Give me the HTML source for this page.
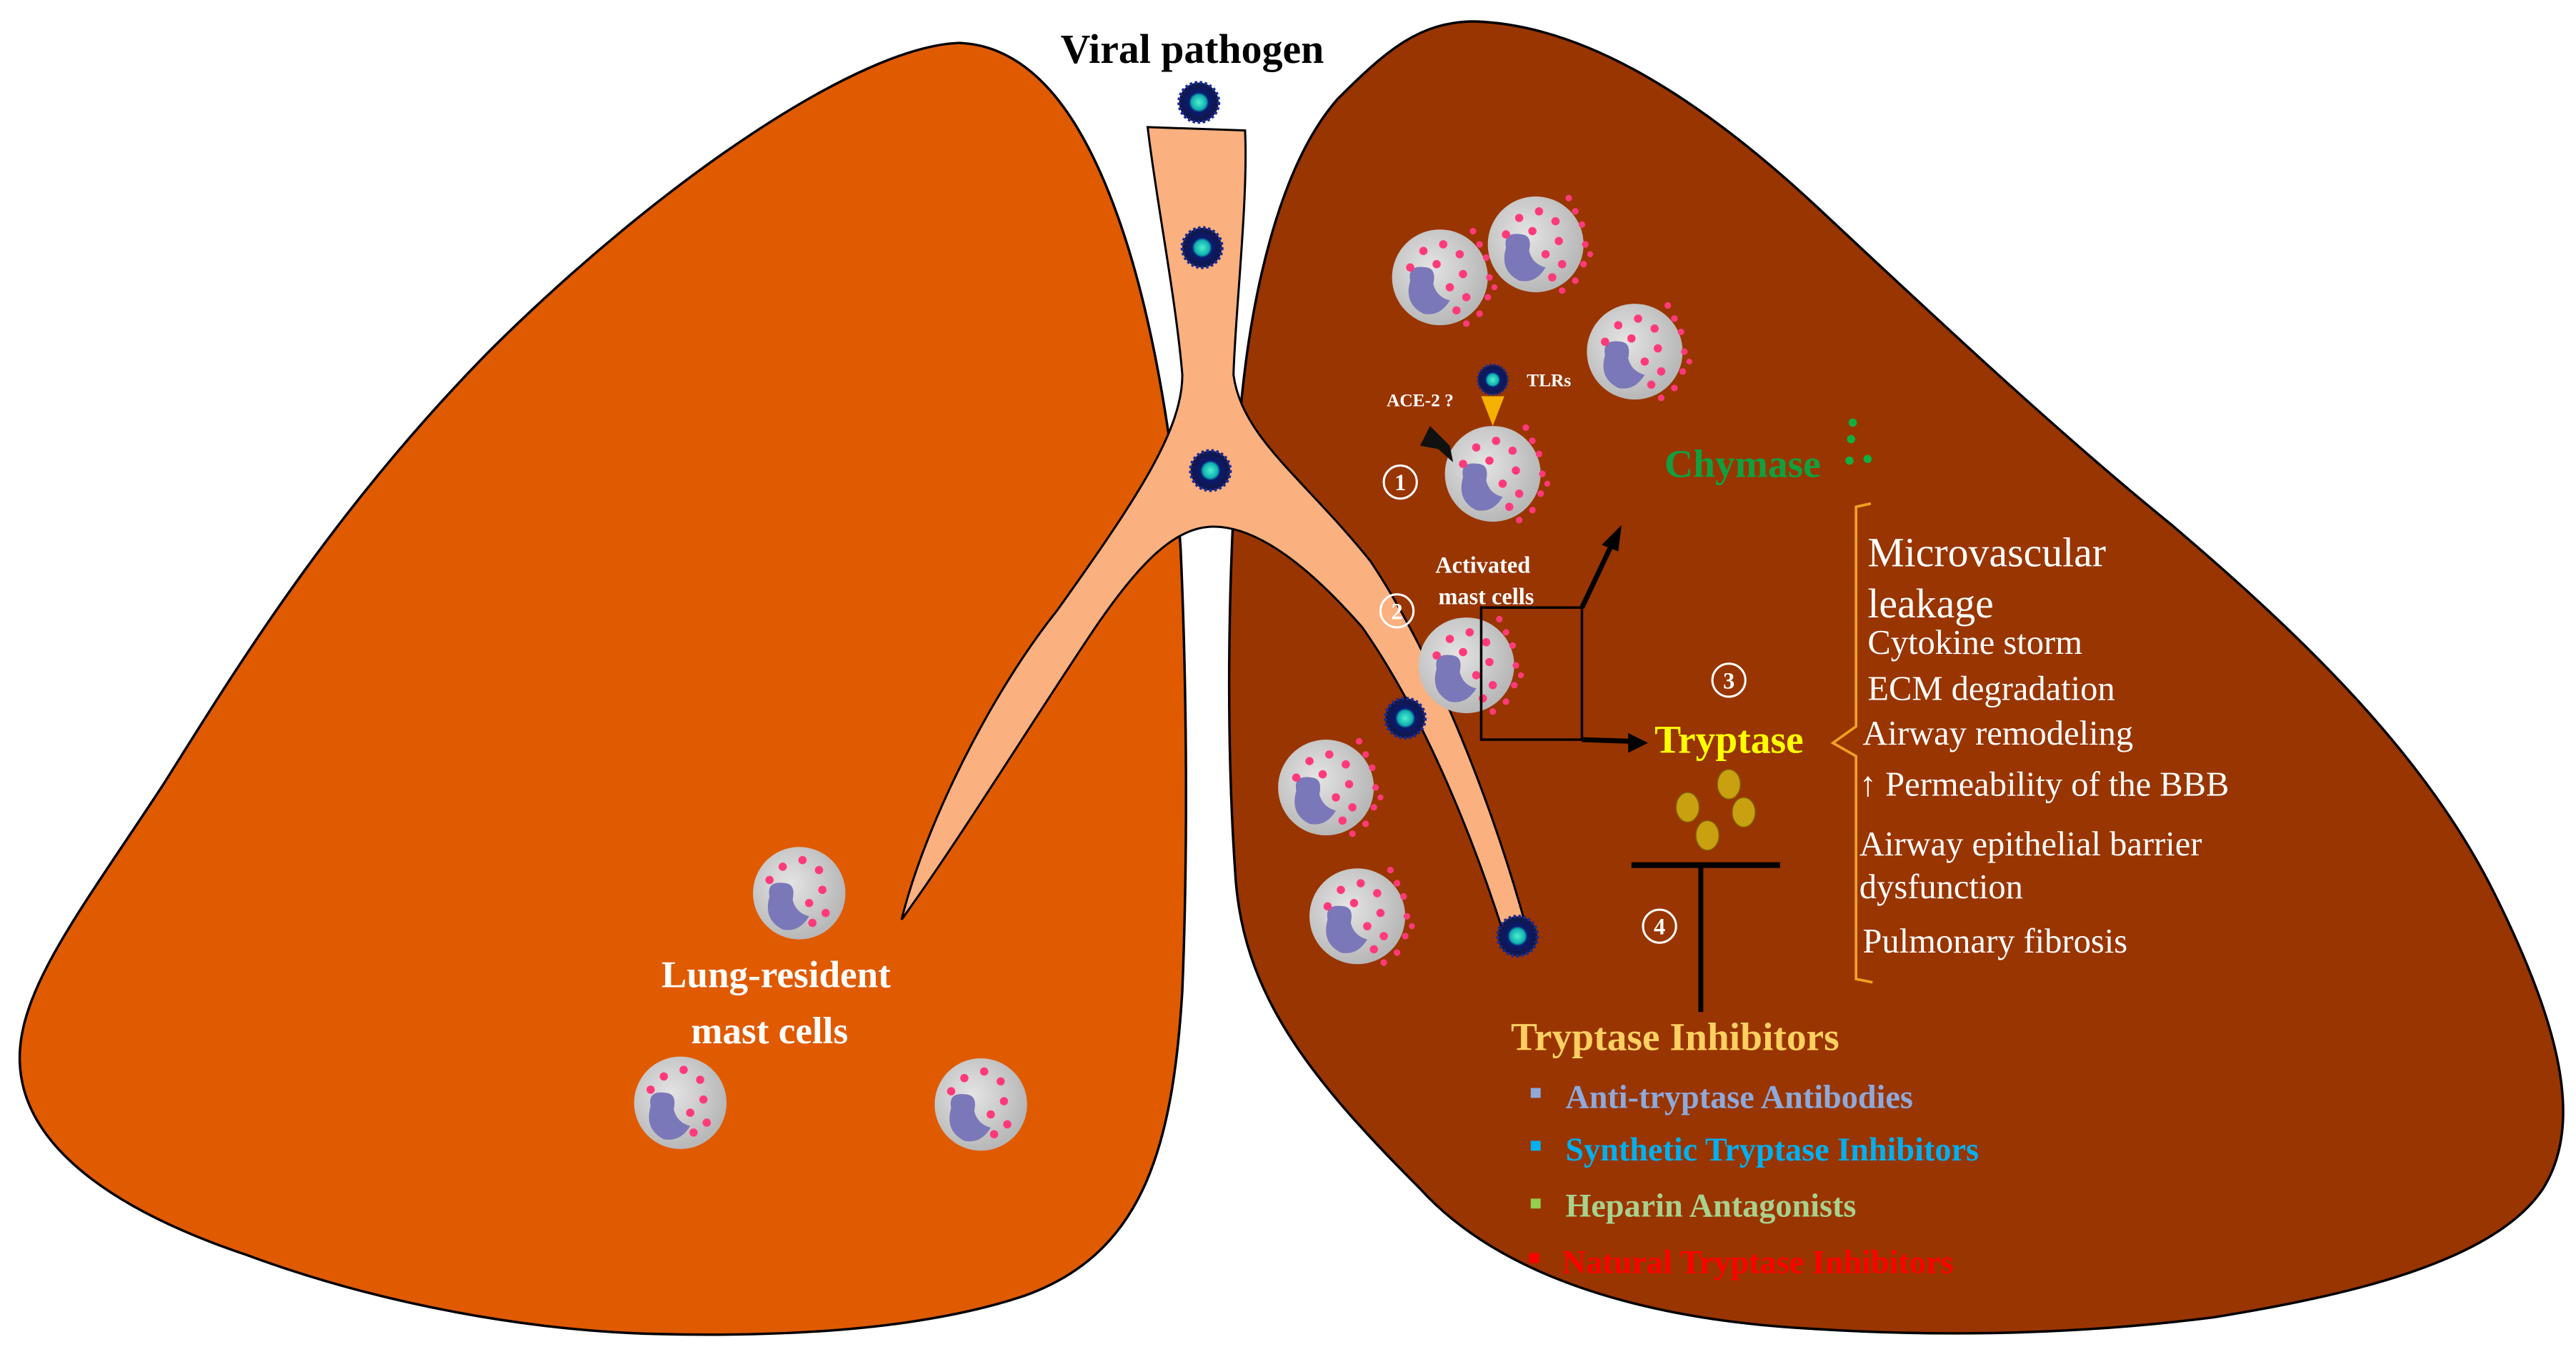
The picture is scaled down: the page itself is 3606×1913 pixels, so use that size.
<!DOCTYPE html>
<html><head><meta charset="utf-8"><style>
html,body{margin:0;padding:0;background:#fff;width:3606px;height:1913px;overflow:hidden}
svg{display:block}
text{font-family:"Liberation Serif",serif}
</style></head><body>
<svg width="3606" height="1913" viewBox="0 0 1560 828" preserveAspectRatio="none" xmlns="http://www.w3.org/2000/svg">
<defs>
<radialGradient id="cg" cx="0.4" cy="0.4" r="0.6"><stop offset="0" stop-color="#e4e4e4"/><stop offset="1" stop-color="#b8b8b8"/></radialGradient>
<radialGradient id="vg"><stop offset="0" stop-color="#4ff0d0"/><stop offset="0.45" stop-color="#10b0b0"/><stop offset="0.6" stop-color="#0a1a70"/><stop offset="1" stop-color="#101850"/></radialGradient>
<g id="cell">
<circle r="29" fill="url(#cg)"/>
<path d="M-18,2 Q-20,-8 -8,-6 Q-2,-5 -4,4 Q-2,12 6,14 Q0,24 -10,22 Q-22,16 -18,2Z" fill="#7a78b8"/>
<g fill="#ff3a7a">
<circle cx="-10" cy="-16" r="2.5"/><circle cx="2" cy="-20" r="2.5"/><circle cx="12" cy="-14" r="2.5"/><circle cx="-2" cy="-8" r="2.5"/><circle cx="14" cy="-2" r="2.5"/><circle cx="6" cy="6" r="2.5"/><circle cx="16" cy="12" r="2.5"/><circle cx="-18" cy="-6" r="2.5"/><circle cx="10" cy="20" r="2.5"/>
<circle cx="24" cy="-20" r="2"/><circle cx="28" cy="-12" r="2"/><circle cx="30" cy="0" r="2"/><circle cx="29" cy="12" r="2"/><circle cx="24" cy="22" r="2"/><circle cx="20" cy="-28" r="2"/><circle cx="33" cy="6" r="1.8"/><circle cx="16" cy="28" r="2"/>
</g>
</g>
<g id="cellR">
<circle r="28" fill="url(#cg)"/>
<path d="M-18,2 Q-20,-8 -8,-6 Q-2,-5 -4,4 Q-2,12 6,14 Q0,24 -10,22 Q-22,16 -18,2Z" fill="#7a78b8"/>
<g fill="#ff3a7a"><circle cx="-10" cy="-16" r="2.5"/><circle cx="2" cy="-20" r="2.5"/><circle cx="12" cy="-14" r="2.5"/><circle cx="14" cy="-2" r="2.5"/><circle cx="6" cy="6" r="2.5"/><circle cx="16" cy="12" r="2.5"/><circle cx="-18" cy="-8" r="2.5"/><circle cx="8" cy="18" r="2.5"/></g>
</g>
<g id="virus"><circle r="12" fill="#101850" stroke="#1a2a90" stroke-width="2" stroke-dasharray="1.5 1.5"/><circle r="10" fill="url(#vg)"/></g>
</defs>
<!-- left lung -->
<path d="M581,26 C520,28 400,110 298,211 C200,310 140,410 99,475 C50,550 10,600 12,644 C14,690 60,730 149,760 C230,790 320,806 397,808 C480,810 560,805 620,785 C690,760 710,700 716,600 C720,500 718,400 715,333 C712,280 700,200 680,140 C660,80 630,28 581,26Z" fill="#e05a00" stroke="#000" stroke-width="1.5"/>
<!-- right lung -->
<path d="M893,13 C960,15 1030,60 1100,125 C1180,200 1250,265 1314,317 C1400,390 1470,460 1510,540 C1550,620 1565,680 1540,720 C1510,765 1420,785 1340,798 C1260,808 1180,810 1100,805 C1000,800 910,775 860,720 C790,650 752,600 748,528 C742,440 744,340 750,264 C756,180 775,100 810,60 C840,30 860,13 893,13Z" fill="#993500" stroke="#000" stroke-width="1.5"/>
<!-- trachea/bronchi -->
<path d="M695,77 L754,79 C756,120 748,190 747,227 C752,265 790,290 830,340 C870,400 905,490 926,568 L912,570 C890,500 860,430 825,380 C790,340 760,319 735,319 C712,319 690,340 660,385 C620,445 580,510 546,557 C560,500 600,420 640,370 C690,300 716,260 716,227 C712,180 700,120 695,77Z" fill="#fbb07f" stroke="#000" stroke-width="1.3"/>
<!-- viruses -->
<use href="#virus" x="726" y="62"/><use href="#virus" x="728" y="150"/><use href="#virus" x="733" y="285"/><use href="#virus" x="851" y="435"/><use href="#virus" x="919" y="567"/>
<g transform="translate(904,230) scale(0.75)"><use href="#virus"/></g>
<!-- cells -->
<use href="#cell" x="872" y="168"/><use href="#cell" x="930" y="148"/><use href="#cell" x="990" y="213"/><use href="#cell" x="904" y="287"/><use href="#cell" x="888" y="403"/><use href="#cell" x="803" y="477"/><use href="#cell" x="822" y="555"/>
<use href="#cellR" x="484" y="541"/><use href="#cellR" x="412" y="668"/><use href="#cellR" x="594" y="669"/>
<!-- TLR arrow, ACE2 -->
<path d="M897,240 L911,240 L904,258Z" fill="#f5b000"/>
<path d="M866,258 L878,270 L880,280 L871,272 L860,270Z" fill="#111"/>
<!-- box & arrows -->
<rect x="897" y="368" width="61" height="80" fill="none" stroke="#000" stroke-width="1.5"/>
<line x1="958" y1="368" x2="976" y2="330" stroke="#000" stroke-width="3"/>
<path d="M982,318 L970,330 L980,334Z" fill="#000"/>
<line x1="958" y1="448" x2="988" y2="449" stroke="#000" stroke-width="3"/>
<path d="M998,450 L986,444 L986,456Z" fill="#000"/>
<line x1="988" y1="524" x2="1078" y2="524" stroke="#000" stroke-width="3.5"/>
<line x1="1030" y1="524" x2="1030" y2="613" stroke="#000" stroke-width="3"/>
<!-- bracket -->
<path d="M1133,305 L1124,307 L1124,440 L1110,450 L1124,458 L1124,593 L1134,595" fill="none" stroke="#f0a020" stroke-width="1.6"/>
<!-- granules -->
<g fill="#c8a010" stroke="#806000" stroke-width="0.6"><ellipse cx="1022" cy="489" rx="7" ry="9"/><ellipse cx="1047" cy="475" rx="7" ry="9"/><ellipse cx="1056" cy="492" rx="7" ry="9"/><ellipse cx="1034" cy="506" rx="7" ry="9"/></g>
<g fill="#10b040"><circle cx="1122" cy="256" r="2.5"/><circle cx="1121" cy="266" r="2.5"/><circle cx="1120" cy="279" r="2.5"/><circle cx="1131" cy="278" r="2.5"/></g>
<!-- text -->
<text x="722" y="38" font-size="25" font-weight="bold" text-anchor="middle">Viral pathogen</text>
<g fill="#fff" font-weight="bold">
<text x="860" y="246" font-size="11" text-anchor="middle">ACE-2 ?</text>
<text x="938" y="234" font-size="11" text-anchor="middle">TLRs</text>
<text x="898" y="347" font-size="14" text-anchor="middle">Activated</text>
<text x="900" y="366" font-size="14" text-anchor="middle">mast cells</text>
<text x="470" y="598" font-size="23" text-anchor="middle">Lung-resident</text>
<text x="466" y="632" font-size="23" text-anchor="middle">mast cells</text>
</g>
<g fill="none" stroke="#fff" stroke-width="1.3"><circle cx="848" cy="292" r="10"/><circle cx="846" cy="370" r="10"/><circle cx="1047" cy="412" r="10"/><circle cx="1005" cy="561" r="10"/></g>
<g fill="#fff" font-size="14" font-weight="bold" text-anchor="middle"><text x="848" y="297">1</text><text x="846" y="375">2</text><text x="1047" y="417">3</text><text x="1005" y="566">4</text></g>
<text x="1008" y="289" font-size="24" font-weight="bold" fill="#10a040">Chymase</text>
<text x="1002" y="456" font-size="24" font-weight="bold" fill="#ffff00">Tryptase</text>
<g fill="#fff">
<text x="1131" y="343" font-size="25">Microvascular</text>
<text x="1131" y="374" font-size="25">leakage</text>
<text x="1131" y="396" font-size="21">Cytokine storm</text>
<text x="1131" y="424" font-size="21">ECM degradation</text>
<text x="1128" y="451" font-size="21">Airway remodeling</text>
<text x="1126" y="482" font-size="21">↑ Permeability of the BBB</text>
<text x="1126" y="518" font-size="21">Airway epithelial barrier</text>
<text x="1126" y="544" font-size="21">dysfunction</text>
<text x="1128" y="577" font-size="21">Pulmonary fibrosis</text>
</g>
<text x="915" y="636" font-size="24" font-weight="bold" fill="#ffd060">Tryptase Inhibitors</text>
<g font-size="20" font-weight="bold">
<rect x="927" y="659" width="6" height="6" fill="#8ea9db"/><text x="948" y="671" fill="#8ea9db">Anti-tryptase Antibodies</text>
<rect x="927" y="691" width="6" height="6" fill="#00b0f0"/><text x="948" y="703" fill="#00b0f0">Synthetic Tryptase Inhibitors</text>
<rect x="927" y="726" width="6" height="6" fill="#92d050"/><text x="948" y="737" fill="#a9d18e">Heparin Antagonists</text>
<rect x="926" y="759" width="6" height="6" fill="#ff0000"/><text x="946" y="771" fill="#ff0000">Natural Tryptase Inhibitors</text>
</g>
</svg>
</body></html>
